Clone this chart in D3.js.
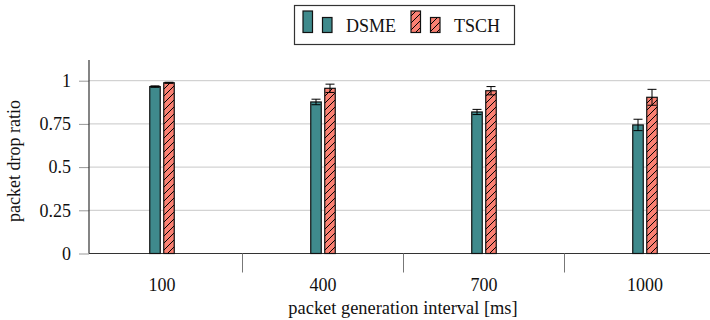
<!DOCTYPE html>
<html>
<head>
<meta charset="utf-8">
<script src="https://cdn.jsdelivr.net/npm/d3@7"></script>
<style>
  html, body { margin: 0; padding: 0; background: #fff; }
  svg { display: block; font-family: "Liberation Serif", "Times New Roman", serif; }
</style>
</head>
<body>
<svg id="chart" width="710" height="320"></svg>
<script>
// Packet drop ratio per packet generation interval, DSME vs TSCH
const intervals = ["100", "400", "700", "1000"];
const seriesNames = ["DSME", "TSCH"];
const dsmeMean = [0.966, 0.877, 0.819, 0.744];
const dsmeErr  = [0.004, 0.016, 0.015, 0.033];
const tschMean = [0.988, 0.956, 0.942, 0.904];
const tschErr  = [0.003, 0.024, 0.024, 0.046];
const yTicks = [0, 0.25, 0.5, 0.75, 1];
const yTickLabels = ["0", "0.25", "0.5", "0.75", "1"];

const teal = "#3f8a8c";
const salmon = "#fa8072";

const svg = d3.select("#chart");

const plot = { left: 89, right: 710, top: 60, bottom: 253.5 };

const x = d3.scaleBand().domain(intervals).range([81.5, 725.5]).padding(0);
const xs = d3.scaleBand().domain(seriesNames).range([-12.25, 12.25]).paddingInner(0.25);
const y = d3.scaleLinear().domain([0, 1]).range([plot.bottom, 80.7]);

// hatch pattern for TSCH bars
const defs = svg.append("defs");
const pat = defs.append("pattern")
  .attr("id", "hatch")
  .attr("patternUnits", "userSpaceOnUse")
  .attr("width", 7).attr("height", 7);
pat.append("rect").attr("width", 7).attr("height", 7).attr("fill", salmon);
pat.append("path")
  .attr("d", "M-1,1 l2,-2 M0,7 l7,-7 M6,8 l2,-2")
  .attr("stroke", "#000").attr("stroke-width", 1);

// horizontal grid
svg.append("g")
  .selectAll("line")
  .data(yTicks.filter(d => d > 0))
  .join("line")
  .attr("x1", plot.left).attr("x2", plot.right)
  .attr("y1", d => y(d)).attr("y2", d => y(d))
  .attr("stroke", "#c8c8c8").attr("stroke-width", 1);

// y axis
const yAxis = d3.axisLeft(y)
  .tickValues(yTicks)
  .tickFormat((d, i) => yTickLabels[i])
  .tickSize(10)
  .tickPadding(8);
const gy = svg.append("g").attr("transform", `translate(${plot.left},0)`).call(yAxis);
gy.attr("font-family", null).attr("font-size", null);
gy.select(".domain").remove();
gy.selectAll(".tick line").attr("stroke", "#999");
gy.selectAll(".tick text")
  .attr("font-size", 18).attr("fill", "#111");
svg.append("line")
  .attr("x1", plot.left).attr("x2", plot.left)
  .attr("y1", plot.top).attr("y2", plot.bottom)
  .attr("stroke", "#333").attr("stroke-width", 1.2);

// x axis: category labels and separators between groups
const gx = svg.append("g");
gx.append("line")
  .attr("x1", plot.left).attr("x2", plot.right)
  .attr("y1", plot.bottom).attr("y2", plot.bottom)
  .attr("stroke", "#333").attr("stroke-width", 1.2);
gx.selectAll("line.sep")
  .data(intervals.slice(1))
  .join("line")
  .attr("class", "sep")
  .attr("x1", d => x(d)).attr("x2", d => x(d))
  .attr("y1", plot.bottom).attr("y2", plot.bottom + 19)
  .attr("stroke", "#777").attr("stroke-width", 1);
gx.selectAll("text")
  .data(intervals)
  .join("text")
  .attr("x", d => x(d) + x.bandwidth() / 2)
  .attr("y", 291)
  .attr("text-anchor", "middle")
  .attr("font-size", 18).attr("fill", "#111")
  .text(d => d);

// bars
const rows = intervals.map((c, i) => ({
  cat: c,
  vals: [
    { s: "DSME", v: dsmeMean[i], e: dsmeErr[i] },
    { s: "TSCH", v: tschMean[i], e: tschErr[i] }
  ]
}));

const groups = svg.append("g")
  .selectAll("g")
  .data(rows)
  .join("g")
  .attr("transform", d => `translate(${x(d.cat) + x.bandwidth() / 2},0)`);

groups.selectAll("rect")
  .data(d => d.vals)
  .join("rect")
  .attr("x", d => xs(d.s))
  .attr("width", xs.bandwidth())
  .attr("y", d => y(d.v))
  .attr("height", d => y(0) - y(d.v))
  .attr("fill", d => d.s === "DSME" ? teal : "url(#hatch)")
  .attr("stroke", "#111").attr("stroke-width", 1.2);

// error bars
const eb = groups.selectAll("g.err")
  .data(d => d.vals)
  .join("g")
  .attr("class", "err")
  .attr("transform", d => `translate(${xs(d.s) + xs.bandwidth() / 2},0)`);
eb.append("line")
  .attr("y1", d => y(d.v - d.e)).attr("y2", d => y(d.v + d.e))
  .attr("stroke", "#000").attr("stroke-width", 1);
eb.append("line")
  .attr("x1", -4.5).attr("x2", 4.5)
  .attr("y1", d => y(d.v + d.e)).attr("y2", d => y(d.v + d.e))
  .attr("stroke", "#000").attr("stroke-width", 1);
eb.append("line")
  .attr("x1", -4.5).attr("x2", 4.5)
  .attr("y1", d => y(d.v - d.e)).attr("y2", d => y(d.v - d.e))
  .attr("stroke", "#000").attr("stroke-width", 1);

// axis titles
svg.append("text")
  .attr("x", 403)
  .attr("y", 314)
  .attr("text-anchor", "middle")
  .attr("font-size", 18.4).attr("fill", "#111")
  .text("packet generation interval [ms]");

svg.append("text")
  .attr("transform", "translate(20,161) rotate(-90)")
  .attr("text-anchor", "middle")
  .attr("font-size", 18).attr("fill", "#111")
  .text("packet drop ratio");

// legend
const lg = svg.append("g");
lg.append("rect")
  .attr("x", 294.5).attr("y", 5.5)
  .attr("width", 220).attr("height", 39)
  .attr("fill", "#fff").attr("stroke", "#333").attr("stroke-width", 1.2);

const legendItems = [
  { name: seriesNames[0], fill: teal, x0: 303 },
  { name: seriesNames[1], fill: "url(#hatch)", x0: 411 }
];
legendItems.forEach(it => {
  lg.append("rect")
    .attr("x", it.x0).attr("y", 11)
    .attr("width", 9.5).attr("height", 21.5)
    .attr("fill", it.fill).attr("stroke", "#111").attr("stroke-width", 1.2);
  lg.append("rect")
    .attr("x", it.x0 + 19.5).attr("y", 17.5)
    .attr("width", 9.5).attr("height", 15)
    .attr("fill", it.fill).attr("stroke", "#111").attr("stroke-width", 1.2);
  lg.append("text")
    .attr("x", it.x0 + 43).attr("y", 32)
    .attr("font-size", 18).attr("fill", "#111")
    .text(it.name);
});
</script>
</body>
</html>
